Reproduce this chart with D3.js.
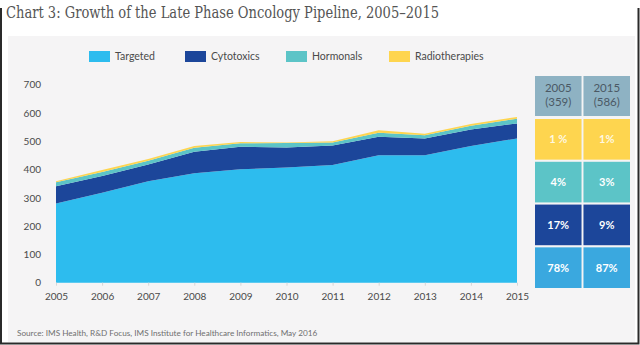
<!DOCTYPE html>
<html>
<head>
<meta charset="utf-8">
<script src="https://cdn.jsdelivr.net/npm/d3@7"></script>
<style>
  html, body { margin: 0; padding: 0; background: #fff; }
  svg { display: block; }
</style>
</head>
<body>
<svg id="chart" width="640" height="345"></svg>
<script>
// pipeline counts by year and therapy class
var years = [2005, 2006, 2007, 2008, 2009, 2010, 2011, 2012, 2013, 2014, 2015]
var targeted = [280, 318, 359, 387, 401, 407, 416, 451, 451, 483, 510]
var cytotoxics = [61, 59, 59, 76, 80, 71, 69, 65, 59, 59, 53]
var hormonals = [14, 14, 13, 14, 12, 16, 11, 14, 11, 13, 17]
var radiotherapies = [4, 7, 6, 6, 4, 2, 4, 9, 6, 6, 6]

var seriesNames = ['Targeted', 'Cytotoxics', 'Hormonals', 'Radiotherapies']
var yTicks = [0, 100, 200, 300, 400, 500, 600, 700]

// share table, top row first
var tableYears = ['2005', '2015']
var tableTotals = ['(359)', '(586)']
var share2005 = ['1 %', '4%', '17%', '78%']
var share2015 = ['1%', '3%', '9%', '87%']

var colours = {
  Targeted: '#2dbcee',
  Cytotoxics: '#1c469a',
  Hormonals: '#5cc4c7',
  Radiotherapies: '#fed54f'
}
var tableColours = ['#fed54f', '#5cc4c7', '#1c469a', '#3aa8df']

var svg = d3.select('#chart')

// frame and panel
svg.append('rect')
   .attr('x', 8).attr('y', 36)
   .attr('width', 627).attr('height', 306)
   .attr('fill', '#f5f4f5')
svg.append('path')
   .attr('d', 'M1,8 V343.5 H638.5 V8')
   .attr('fill', 'none')
   .attr('stroke', '#2a2a2a')
   .attr('stroke-width', 2)

svg.append('text')
   .attr('x', 6).attr('y', 18)
   .attr('font-family', 'DejaVu Serif Condensed, DejaVu Serif')
   .attr('font-size', 16)
   .attr('fill', '#555')
   .attr('textLength', 433)
   .attr('lengthAdjust', 'spacingAndGlyphs')
   .text('Chart 3: Growth of the Late Phase Oncology Pipeline, 2005\u20132015')

// legend
var legendX = [89, 185, 286, 389]
var legend = svg.append('g')
                .selectAll('g')
                .data(seriesNames)
                .enter()
                .append('g')
                .attr('transform', function(d, i) {
                  return 'translate(' + legendX[i] + ',51)'
                })
legend.append('rect')
      .attr('width', 21).attr('height', 11)
      .attr('fill', function(d) { return colours[d] })
legend.append('text')
      .attr('x', 26).attr('y', 9)
      .attr('font-family', 'Lato')
      .attr('font-size', 10.5)
      .attr('fill', '#4a4a4a')
      .text(function(d) { return d })

// stacked area
var x = d3.scaleLinear().domain([2005, 2015]).range([56, 517])
var y = d3.scaleLinear().domain([0, 700]).range([282.7, 84.7])

var rows = years.map(function(year, i) {
  return {
    year: year,
    Targeted: targeted[i],
    Cytotoxics: cytotoxics[i],
    Hormonals: hormonals[i],
    Radiotherapies: radiotherapies[i]
  }
})

var stack = d3.stack().keys(seriesNames)
var area = d3.area()
             .x(function(d) { return x(d.data.year) })
             .y0(function(d) { return y(d[0]) })
             .y1(function(d) { return y(d[1]) })

svg.append('g')
   .selectAll('path')
   .data(stack(rows))
   .enter()
   .append('path')
   .attr('fill', function(d) { return colours[d.key] })
   .attr('d', area)

// axes
var xAxis = svg.append('g')
               .attr('transform', 'translate(0,' + y(0) + ')')
               .call(d3.axisBottom(x)
                       .tickValues(years)
                       .tickFormat(d3.format('d'))
                       .tickSize(3)
                       .tickPadding(7))
xAxis.select('.domain').remove()
xAxis.selectAll('line').attr('stroke', '#d6d6d6')
xAxis.selectAll('text')
     .attr('font-family', 'Lato')
     .attr('font-size', 10)
     .attr('fill', '#4a4a4a')

var yAxis = svg.append('g')
               .attr('transform', 'translate(41,0)')
               .call(d3.axisLeft(y).tickValues(yTicks).tickSize(0).tickPadding(0))
yAxis.select('.domain').remove()
yAxis.selectAll('text')
     .attr('font-family', 'Lato')
     .attr('font-size', 10)
     .attr('fill', '#4a4a4a')

// share table
var colX = d3.scaleBand().domain(tableYears).range([535, 630]).paddingInner(0.04)
var rowY = d3.scaleBand().domain(d3.range(4)).range([119, 288]).paddingInner(0.05)

var header = svg.append('g')
                .selectAll('g')
                .data(tableYears)
                .enter()
                .append('g')
header.append('rect')
      .attr('x', function(d) { return colX(d) })
      .attr('y', 76)
      .attr('width', colX.bandwidth())
      .attr('height', 40)
      .attr('fill', '#8eb2c3')
header.append('text')
      .attr('x', function(d) { return colX(d) + colX.bandwidth() / 2 })
      .attr('y', 92)
      .attr('text-anchor', 'middle')
      .attr('font-family', 'Lato')
      .attr('font-size', 11.5)
      .attr('fill', '#4b5965')
      .text(function(d) { return d })
header.append('text')
      .attr('x', function(d) { return colX(d) + colX.bandwidth() / 2 })
      .attr('y', 106)
      .attr('text-anchor', 'middle')
      .attr('font-family', 'Lato')
      .attr('font-size', 11.5)
      .attr('fill', '#4b5965')
      .text(function(d, i) { return tableTotals[i] })

var cells = []
tableYears.forEach(function(yr, c) {
  var shares = c === 0 ? share2005 : share2015
  shares.forEach(function(s, r) {
    cells.push({ col: yr, row: r, label: s })
  })
})

var cell = svg.append('g')
              .selectAll('g')
              .data(cells)
              .enter()
              .append('g')
cell.append('rect')
    .attr('x', function(d) { return colX(d.col) })
    .attr('y', function(d) { return rowY(d.row) })
    .attr('width', colX.bandwidth())
    .attr('height', rowY.bandwidth())
    .attr('fill', function(d) { return tableColours[d.row] })
cell.append('text')
    .attr('x', function(d) { return colX(d.col) + colX.bandwidth() / 2 })
    .attr('y', function(d) { return rowY(d.row) + rowY.bandwidth() / 2 + 4 })
    .attr('text-anchor', 'middle')
    .attr('font-family', 'Lato')
    .attr('font-weight', 'bold')
    .attr('font-size', 11)
    .attr('fill', '#fff')
    .attr('fill-opacity', function(d) { return d.row === 0 ? 0.85 : 1 })
    .text(function(d) { return d.label })

svg.append('text')
   .attr('x', 17).attr('y', 336)
   .attr('font-family', 'Lato')
   .attr('font-size', 8.2)
   .attr('fill', '#6f6f6f')
   .text('Source: IMS Health, R&D Focus, IMS Institute for Healthcare Informatics, May 2016')
</script>
</body>
</html>
